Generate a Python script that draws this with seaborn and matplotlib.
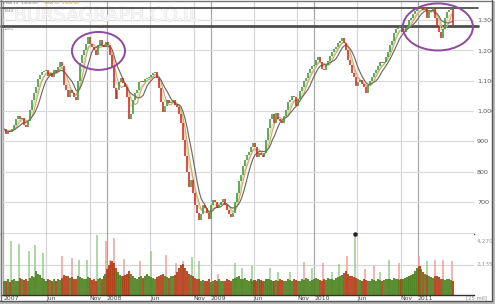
import numpy as np
import pandas as pd
import matplotlib
matplotlib.use("Agg")
import matplotlib.pyplot as plt
import matplotlib.dates as mdates
from matplotlib.patches import Ellipse, Rectangle
from matplotlib.lines import Line2D
import matplotlib.patheffects as pe
import seaborn as sns

# ---------------- data (weekly closes) ----------------
first_week = "2007-01-04"
closes = [
    940, 925, 935, 932, 940, 955, 972, 985, 975, 978,
    955, 948, 968, 1003, 1036, 1059, 1079, 1105, 1118, 1128,
    1132, 1135, 1115, 1125, 1112, 1135, 1128, 1145, 1162, 1148,
    1085, 1069, 1046, 1069, 1059, 1046, 1036, 1100, 1158, 1185,
    1201, 1220, 1244, 1222, 1211, 1201, 1185, 1218, 1234, 1218,
    1211, 1227, 1218, 1185, 1145, 1075, 1040, 1069, 1095, 1109,
    1092, 1080, 1046, 975, 990, 1036, 1060, 1069, 1095, 1100,
    1095, 1105, 1109, 1112, 1119, 1125, 1129, 1110, 1075, 1030,
    995, 1015, 1036, 1026, 1030, 1036, 1020, 1013, 990, 960,
    905, 850, 800, 750, 772, 730, 690, 665, 640, 660,
    690, 680, 665, 645, 690, 705, 700, 680, 690, 700,
    710, 690, 675, 660, 650, 665, 700, 730, 770, 790,
    820, 840, 855, 865, 880, 895, 880, 848, 862, 855,
    848, 862, 905, 945, 975, 990, 960, 993, 975, 968,
    960, 985, 1003, 1030, 1036, 1050, 1045, 1015, 1040, 1065,
    1080, 1100, 1110, 1125, 1140, 1148, 1150, 1168, 1178, 1162,
    1140, 1135, 1150, 1165, 1180, 1195, 1205, 1210, 1225, 1232,
    1240, 1225, 1201, 1168, 1150, 1125, 1112, 1082, 1095, 1102,
    1090, 1080, 1060, 1086, 1100, 1112, 1125, 1135, 1148, 1162,
    1158, 1160, 1178, 1195, 1218, 1230, 1257, 1270, 1274, 1280,
    1260, 1262, 1275, 1285, 1300, 1308, 1320, 1330, 1338, 1336,
    1340, 1332, 1338, 1305, 1326, 1333, 1338, 1305, 1280, 1262,
    1240, 1270, 1305, 1326, 1333, 1335, 1285,
]
volumes = [
    950, 1000, 1100, 900, 1050, 1150, 950, 1000, 1200, 1100,
    1050, 1150, 1000, 1200, 1300, 1250, 1650, 1500, 1400, 1200,
    1100, 1000, 1150, 1050, 950, 1100, 1000, 1150, 1050, 1200,
    1400, 1300, 1350, 1200, 1250, 1150, 1100, 1300, 1250, 1200,
    1150, 1100, 1250, 1200, 1050, 1100, 1000, 1150, 1200, 1100,
    1300, 1500, 1800, 2100, 2350, 2250, 1900, 1600, 1400, 1300,
    1350, 1400, 1500, 1700, 1450, 1300, 1200, 1150, 1250, 1300,
    1200, 1350, 1500, 1300, 1250, 1200, 1150, 1250, 1350, 1400,
    1450, 1300, 1250, 1200, 1350, 1300, 1400, 1600, 1900, 2100,
    2200, 1900, 1700, 1500, 1400, 1300, 1200, 1100, 1150, 1000,
    1050, 950, 1000, 1100, 900, 1000, 1050, 950, 1100, 1000,
    950, 1000, 1100, 1050, 1000, 1150, 1200, 1250, 1300, 1150,
    1100, 1200, 1050, 1000, 1100, 950, 1050, 1000, 1100, 1050,
    1000, 950, 1100, 1150, 1050, 1000, 950, 1050, 1000, 1100,
    1050, 1000, 950, 1100, 1050, 1000, 1150, 1050, 1000, 950,
    1100, 1050, 1200, 1100, 1000, 1050, 1150, 1200, 1100, 1050,
    1000, 1100, 1050, 1200, 1100, 1150, 1050, 1200, 1250, 1300,
    1400, 1550, 1700, 1500, 1350, 1300, 1250, 1200, 1150, 1050,
    1000, 1100, 1050, 950, 1000, 1100, 1050, 1000, 1100, 1050,
    1000, 1050, 1100, 1150, 1100, 1050, 1200, 1150, 1100, 1050,
    1150, 1100, 1200, 1250, 1300, 1400, 1500, 1650, 1900, 2050,
    1800, 1600, 1500, 1400, 1300, 1250, 1200, 1350, 1300, 1250,
    1150, 1100, 1050, 1100, 1150, 1050, 1000,
]
spike_dates = [
    "2007-01-27", "2007-02-25", "2007-04-01", "2007-04-22", "2007-05-21",
    "2007-07-26", "2007-08-31", "2007-09-24", "2007-10-23", "2007-11-27",
    "2007-12-29", "2008-01-12", "2008-01-26", "2008-03-01", "2008-04-26",
    "2008-06-04", "2008-07-27", "2008-08-31", "2008-09-25", "2008-10-27",
    "2008-11-20", "2009-01-26", "2009-03-27", "2009-04-21", "2009-05-26",
    "2009-07-28", "2009-08-26", "2009-10-07", "2009-11-25", "2009-12-23",
    "2010-01-31", "2010-03-04", "2010-03-29", "2010-04-26", "2010-05-24",
    "2010-06-28", "2010-07-30", "2010-08-20", "2010-09-21", "2010-10-26",
    "2011-01-03", "2011-02-02", "2011-03-02", "2011-03-30", "2011-05-01",
]
spike_vols = [
    3770, 3560, 3060, 3490, 2920, 2710, 2560, 2420, 2420, 4200,
    3770, 2420, 3990, 2490, 2350, 3060, 2780, 2210, 2350, 2630,
    2350, 1500, 2210, 1920, 2060, 1920, 1640, 1640, 2280, 1920,
    2210, 1640, 2140, 2710, 4270, 1850, 2060, 1640, 2420, 2210,
    2710, 2350, 2420, 2420, 2350,
]
spike_up = [
    1, 1, 1, 1, 1, 0, 0, 1, 1, 1,
    0, 0, 0, 0, 0, 1, 0, 0, 0, 1,
    1, 0, 1, 1, 1, 1, 1, 1, 0, 1,
    0, 1, 1, 0, 1, 0, 0, 1, 1, 0,
    0, 1, 0, 0, 0,
]
price_ticks = [700, 800, 900, 1000, 1100, 1200, 1300]
price_labels = ["700", "800", "900", "1,000", "1,100", "1,200", "1,300"]
vol_ticks = [2135, 4270]
vol_labels = ["2,135", "4,270"]
level_lines = [1340, 1281]
level_labels = ["1340", "1281"]
date_ticks = ["2007-01-01", "2007-06-01", "2007-11-01", "2008-01-01", "2008-06-01",
              "2008-11-01", "2009-01-01", "2009-06-01", "2009-11-01", "2010-01-01",
              "2010-06-01", "2010-11-01", "2011-01-01"]
date_labels = ["2007", "Jun", "Nov", "2008", "Jun", "Nov", "2009", "Jun", "Nov",
               "2010", "Jun", "Nov", "2011"]

# ---------------- prep ----------------
dates = pd.date_range(first_week, periods=len(closes), freq="7D")
t = mdates.date2num(dates.to_pydatetime())
c = np.array(closes, dtype=float)
o = np.concatenate([[c[0]], c[:-1]])
up = c >= o
s = pd.Series(c)
ma = pd.DataFrame({
    "t": np.tile(t, 3),
    "v": np.concatenate([s.ewm(span=4).mean().values,
                         s.rolling(5, min_periods=1).mean().values,
                         s.rolling(8, min_periods=1).mean().values]),
    "ma": ["EMA 10"] * len(c) + ["SMA 20"] * len(c) + ["SMA 40"] * len(c),
})

sns.set_theme(style="white")
plt.rcParams["font.family"] = ["DejaVu Sans"]

W, H = 497, 306
fig = plt.figure(figsize=(W / 100, H / 100), dpi=100)
fig.patch.set_facecolor("white")
ax = fig.add_axes([1 / W, 1 - 234 / H, 473 / W, 233 / H])
axv = fig.add_axes([1 / W, 1 - 295 / H, 473 / W, 61 / H], sharex=ax)

d0 = mdates.date2num(pd.Timestamp("2007-01-01").to_pydatetime())
ax.set_xlim(d0 - 8.5, d0 + 1658.3)
ax.set_ylim(594.4, 1362.6)
axv.set_ylim(0, 4270)

tick_nums = mdates.date2num(pd.to_datetime(date_ticks).to_pydatetime())
for a in (ax, axv):
    for tn, lab in zip(tick_nums, date_labels):
        is_year = lab.isdigit()
        a.axvline(tn, color="#a8a8a8" if is_year else "#d6d6d6", lw=0.9, zorder=0)
for p in price_ticks:
    ax.axhline(p, color="#dadada", lw=0.8, zorder=0)
axv.axhline(vol_ticks[0], color="#d6d6d6", lw=0.8, zorder=0)

# level lines
for lv, lw in zip(level_lines, [1.3, 2.0]):
    ax.axhline(lv, xmin=0, xmax=1.009, color="#4e4e4e", lw=lw, zorder=3, clip_on=False)
for lv, lab in zip(level_lines, level_labels):
    ax.text(0.005, lv - 3, lab, transform=ax.get_yaxis_transform(), fontsize=3.0,
            color="#888888", va="top", ha="left", zorder=7)

# watermark (starts just right of the small level labels)
ax.text(0.027, 1315, "BURSAGRAPH.CO.IL", transform=ax.get_yaxis_transform(),
        fontsize=13.6, color="#f6f6f6", va="center", ha="left", zorder=1,
        path_effects=[pe.withStroke(linewidth=0.7, foreground="#e2e2e2")])

# moving averages via seaborn
sns.lineplot(data=ma, x="t", y="v", hue="ma", hue_order=["EMA 10", "SMA 20", "SMA 40"],
             palette=["#e3d49a", "#c9ab7e", "#736a60"], linewidth=0.85,
             legend=False, ax=ax, zorder=4)

# candles on top
ax.vlines(t[up], o[up], c[up], color="#3a9a38", lw=1.15, zorder=6)
ax.vlines(t[~up], o[~up], c[~up], color="#d8241b", lw=1.15, zorder=6)

# ellipses
ax.add_patch(Ellipse((mdates.date2num(pd.Timestamp("2007-12-02").to_pydatetime()), 1198),
                     187, 125, fill=False, ec="#8d4a9e", lw=1.4, zorder=7))
ax.add_patch(Ellipse((mdates.date2num(pd.Timestamp("2011-03-12").to_pydatetime()), 1277),
                     247, 155, fill=False, ec="#8d4a9e", lw=1.4, zorder=7, clip_on=False))

# volume
vcol = np.where(up, "#4f8524", "#b5401c")
st = mdates.date2num(pd.to_datetime(spike_dates).to_pydatetime())
sv = np.array(spike_vols, dtype=float)
scol = np.where(np.array(spike_up) == 1, "#98cc8c", "#eda098")
axv.vlines(st, 0, sv, colors=scol, lw=1.1, zorder=1)
axv.bar(t, volumes, width=7.6, color=vcol, linewidth=0, alpha=0.92, zorder=2)
top = sv >= 4270
axv.scatter(st[top], sv[top], s=5, color="#222222", zorder=6, clip_on=False)

# axes styling
ax.set_ylabel("")
ax.set_xlabel("")
ax.yaxis.tick_right()
ax.set_yticks(price_ticks)
ax.set_yticklabels(price_labels)
ax.tick_params(axis="y", length=0, pad=2.2, labelsize=4.6, labelcolor="#555555")
ax.tick_params(axis="x", bottom=False, labelbottom=False)
for side in ["top", "right"]:
    ax.spines[side].set_visible(False)
ax.spines["left"].set_color("#555555")
ax.spines["left"].set_linewidth(0.9)
ax.spines["bottom"].set_color("#4a4a4a")
ax.spines["bottom"].set_linewidth(1.0)

axv.set_yticks([])
for tv, lab in zip(vol_ticks, vol_labels):
    axv.text(1.006, tv - (350 if tv == 4270 else 0), lab, transform=axv.get_yaxis_transform(),
             fontsize=4.2, color="#9a9a9a", va="top" if tv == 4270 else "center", ha="left")
axv.set_xticks(tick_nums)
axv.set_xticklabels(date_labels, ha="left")
axv.tick_params(axis="x", length=0, pad=0.8, labelsize=4.4, labelcolor="#444444")
for side in ["top", "right"]:
    axv.spines[side].set_visible(False)
axv.spines["left"].set_color("#555555")
axv.spines["left"].set_linewidth(0.9)
axv.spines["bottom"].set_color("#333333")
axv.spines["bottom"].set_linewidth(1.0)
axv.set_ylabel("")
axv.set_xlabel("")

fig.text(466 / W, 1 - 298 / H, "[25 mil]", fontsize=3.8, color="#888888", va="center", ha="left")
fig.text(3 / W, 1 - 3.5 / H, "EMA 10  1300.00", fontsize=3.0, color="#777777", va="center")
fig.text(44 / W, 1 - 3.5 / H, "SMA 30  1300.00", fontsize=3.0, color="#c39a3c", va="center")

# frame and shadow
fig.add_artist(Line2D([0, 492 / W], [1 - 0.6 / H] * 2, color="#777777", lw=1.0, transform=fig.transFigure))
fig.add_artist(Line2D([0.6 / W] * 2, [1, 1 - 301 / H], color="#777777", lw=1.0, transform=fig.transFigure))
fig.add_artist(Rectangle((492.5 / W, 1 - 304 / H), 2.5 / W, 303 / H, color="#b8b8b8",
                         transform=fig.transFigure, lw=0))
fig.add_artist(Rectangle((0, 1 - 304 / H), 495 / W, 3 / H, color="#b8b8b8",
                         transform=fig.transFigure, lw=0))
fig.add_artist(Line2D([492 / W] * 2, [1, 1 - 301 / H], color="#555555", lw=1.0, transform=fig.transFigure))
fig.add_artist(Line2D([0, 492 / W], [1 - 301 / H] * 2, color="#555555", lw=1.0, transform=fig.transFigure))

fig.savefig("out.png", dpi=100, facecolor="white")
